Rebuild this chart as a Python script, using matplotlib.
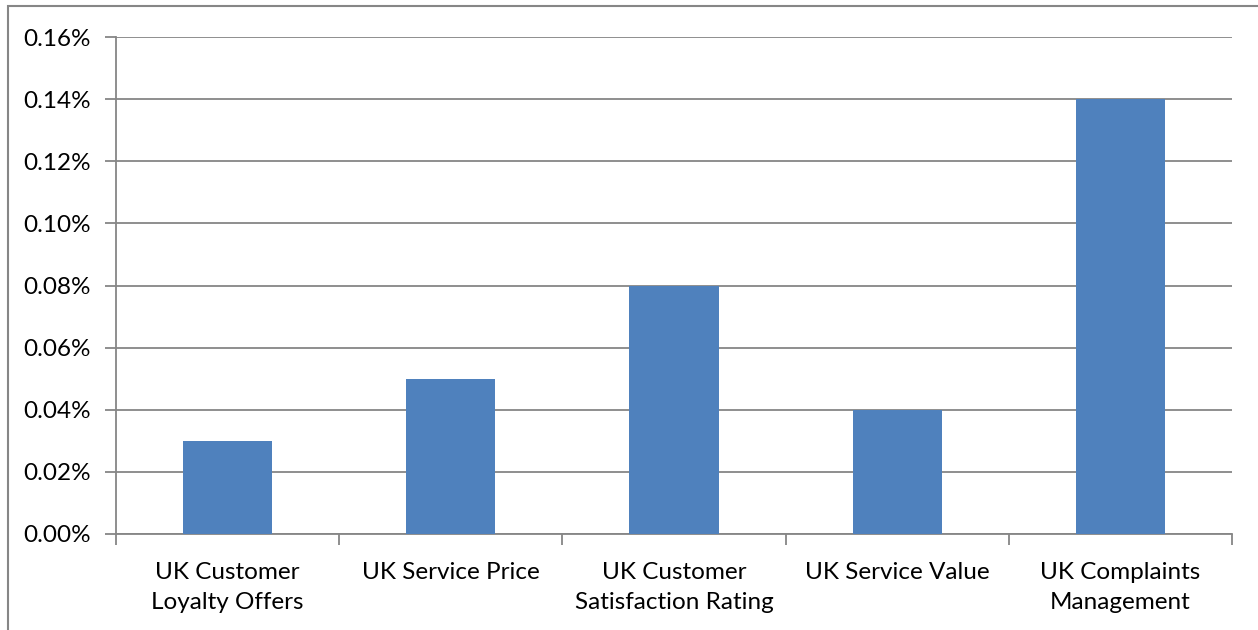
import matplotlib
matplotlib.use("Agg")
import matplotlib.pyplot as plt
from matplotlib.ticker import FuncFormatter, MultipleLocator
from matplotlib.patches import Rectangle

categories = ["UK Customer\nLoyalty Offers", "UK Service Price",
              "UK Customer\nSatisfaction Rating", "UK Service Value",
              "UK Complaints\nManagement"]
values = [0.03, 0.05, 0.08, 0.04, 0.14]  # percent
y_max = 0.16
y_step = 0.02

plt.rcParams['font.family'] = ['Lato', 'DejaVu Sans']

W, H = 1258, 630
fig = plt.figure(figsize=(W / 100, H / 100), dpi=100)
ax = fig.add_axes([116 / W, 1 - 534 / H, (1232 - 116) / W, (534 - 37) / H])

grid_c = "#868686"
x = list(range(len(categories)))
ax.bar(x, values, width=0.4, color="#4F81BD", zorder=3)
ax.set_xlim(-0.5, len(categories) - 0.5)
ax.set_ylim(0, y_max)
ax.yaxis.set_major_locator(MultipleLocator(y_step))
ax.yaxis.set_major_formatter(FuncFormatter(lambda v, p: f"{v:.2f}%"))
ax.grid(axis="y", color=grid_c, linewidth=1.3, zorder=0)
ax.set_axisbelow(True)

for s in ["top", "right"]:
    ax.spines[s].set_visible(False)
for s in ["left", "bottom"]:
    ax.spines[s].set_color(grid_c)
    ax.spines[s].set_linewidth(1.3)

ax.set_xticks([i + 0.5 for i in range(-1, len(categories))], minor=False)
ax.set_xticklabels([])
ax.tick_params(axis="x", which="major", length=8, width=1.3, color=grid_c, direction="out")
ax.set_xticks(x, minor=True)
ax.set_xticklabels(categories, minor=True, fontsize=17.5, linespacing=1.55)
ax.tick_params(axis="x", which="minor", length=0, pad=20)
ax.tick_params(axis="y", length=8, width=1.3, color=grid_c, direction="out", labelsize=17.5, pad=10)

fig.patches.append(Rectangle((8 / W, -0.1), 1.2, 1 - 6 / H + 0.1, transform=fig.transFigure,
                             fill=False, edgecolor=grid_c, linewidth=1.5))

fig.savefig("out.png", dpi=100)
